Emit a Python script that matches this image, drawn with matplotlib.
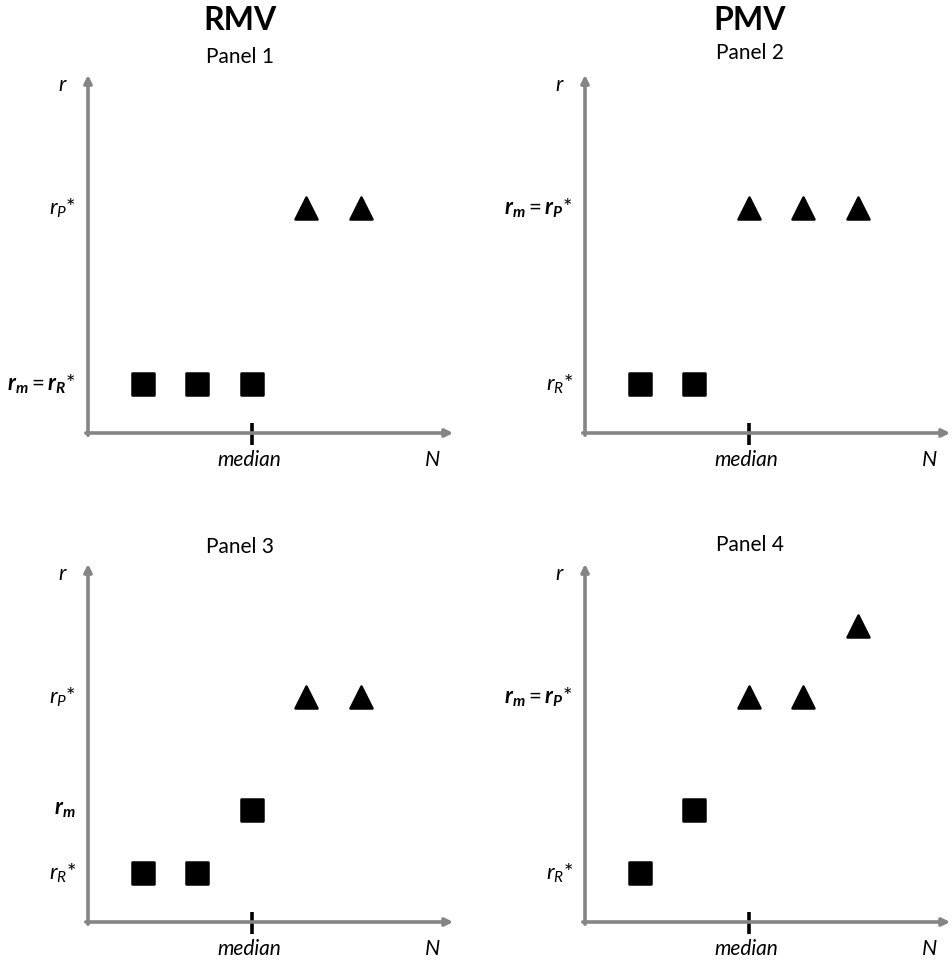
import matplotlib
matplotlib.use("Agg")
import matplotlib.pyplot as plt
from matplotlib.markers import MarkerStyle

plt.rcParams['font.family'] = ['Lato', 'DejaVu Sans']
plt.rcParams['mathtext.fontset'] = 'custom'
plt.rcParams['mathtext.rm'] = 'Lato'
plt.rcParams['mathtext.it'] = 'Lato:italic'
plt.rcParams['mathtext.bf'] = 'Lato:bold'
plt.rcParams['mathtext.bfit'] = 'Lato:bold:italic'

# ---- data (conceptual levels) ----
column_titles = ["RMV", "PMV"]
panel_titles = ["Panel 1", "Panel 2", "Panel 3", "Panel 4"]
median_pos = 3.0
level_rR = 0.9
level_rm3 = 2.05
level_rP = 4.13
level_high = 5.43

squares_x = [[1, 2, 3], [1, 2], [1, 2, 3], [1, 2]]
squares_y = [[level_rR, level_rR, level_rR], [level_rR, level_rR],
             [level_rR, level_rR, level_rm3], [level_rR, level_rm3]]
triangles_x = [[4, 5], [3, 4, 5], [4, 5], [3, 4, 5]]
triangles_y = [[level_rP, level_rP], [level_rP, level_rP, level_rP],
               [level_rP, level_rP], [level_rP, level_rP, level_high]]

LBL_RP = r'$r_P$*'
LBL_RR = r'$r_R$*'
LBL_RM = r'$\mathbfit{r}_{\mathbfit{m}}$'
LBL_RM_RR = r'$\mathbfit{r}_{\mathbfit{m}} = \mathbfit{r}_{\mathbfit{R}}$*'
LBL_RM_RP = r'$\mathbfit{r}_{\mathbfit{m}} = \mathbfit{r}_{\mathbfit{P}}$*'

ylabels = [
    [(level_rP, LBL_RP), (level_rR, LBL_RM_RR)],
    [(level_rP, LBL_RM_RP), (level_rR, LBL_RR)],
    [(level_rP, LBL_RP), (level_rm3, LBL_RM), (level_rR, LBL_RR)],
    [(level_rP, LBL_RM_RP), (level_rR, LBL_RR)],
]

W, H = 953, 960
U = 54.5  # pixels per data unit
origins = [(88, 433), (585, 433), (88, 922), (585, 922)]
title_pos = [(240, 57), (750, 53), (240, 547), (750, 545)]

fig = plt.figure(figsize=(W / 100, H / 100), dpi=100)
fig.patch.set_facecolor('white')

sq_marker = MarkerStyle('s', joinstyle='round')
tri_marker = MarkerStyle('^', joinstyle='round')

for i, (ox, oy) in enumerate(origins):
    L = ox - 88
    R = min(ox + 368, W)
    T = oy - 365
    B = min(oy + 45, H)
    ax = fig.add_axes([L / W, 1 - B / H, (R - L) / W, (B - T) / H])
    ax.set_xlim((L - ox) / U, (R - ox) / U)
    ax.set_ylim((oy - B) / U, (oy - T) / U)
    ax.axis('off')

    ax.annotate('', xy=(6.7, 0), xytext=(-0.04, 0),
                arrowprops=dict(arrowstyle='-|>', color='#858585', lw=2.6,
                                mutation_scale=11, shrinkA=0, shrinkB=0))
    ax.annotate('', xy=(0, 6.57), xytext=(0, -0.04),
                arrowprops=dict(arrowstyle='-|>', color='#858585', lw=2.6,
                                mutation_scale=11, shrinkA=0, shrinkB=0))
    ax.plot([median_pos, median_pos], [-0.22, 0.19], color='black', lw=2.6,
            solid_capstyle='butt')

    ax.plot(squares_x[i], squares_y[i], linestyle='none', marker=sq_marker,
            markersize=15.5, color='black', markeredgewidth=1.8)
    ax.plot(triangles_x[i], triangles_y[i], linestyle='none', marker=tri_marker,
            markersize=16.5, color='black', markeredgewidth=1.8)

    ax.text(median_pos - 0.04, -0.5, 'median', style='italic', fontsize=15,
            ha='center', va='center')
    ax.text(6.32, -0.5, 'N', style='italic', fontsize=15.5, ha='center', va='center')
    ax.text(-0.47, 6.38, 'r', style='italic', fontsize=15.5, ha='center', va='center')

    for (yv, lab) in ylabels[i]:
        ax.text(-0.22, yv, lab, fontsize=16, ha='right', va='center')

    tx, ty = title_pos[i]
    fig.text(tx / W, 1 - ty / H, panel_titles[i], fontsize=15, ha='center', va='center')

fig.text(240 / W, 1 - 21 / H, column_titles[0], fontsize=23, fontweight='bold',
         ha='center', va='center')
fig.text(750 / W, 1 - 21 / H, column_titles[1], fontsize=23, fontweight='bold',
         ha='center', va='center')

fig.savefig('out.png', dpi=100, facecolor='white')
